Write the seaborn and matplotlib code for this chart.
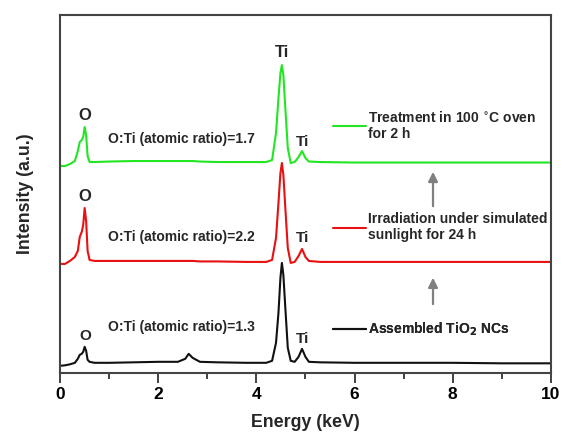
import matplotlib
matplotlib.use("Agg")
import matplotlib.pyplot as plt
from matplotlib.lines import Line2D
import pandas as pd
import seaborn as sns

# energy grid (keV) and intensities (arbitrary units)
energy = [0, 0.1, 0.2, 0.3, 0.36, 0.40, 0.44, 0.47, 0.50, 0.53, 0.56, 0.60, 0.7,
          1.0, 1.5, 2.0, 2.4, 2.55, 2.62, 2.70, 2.85, 3.2, 3.8, 4.2, 4.32, 4.40,
          4.45, 4.49, 4.52, 4.55, 4.59, 4.64, 4.70, 4.78, 4.86, 4.93, 5.00, 5.07,
          5.3, 6, 7, 8, 9, 10]

assembled = [7, 7.5, 8.5, 10, 14, 18, 19, 21, 26, 22, 13, 11, 10,
             10, 10.5, 11, 11, 14, 19, 15, 11, 10.5, 10, 10, 12, 30,
             60, 95, 110, 98, 65, 25, 12, 11, 16, 24, 16, 11,
             10.5, 10, 10, 10, 9.5, 9.5]

irradiated = [109, 109, 112, 116, 122, 136, 141, 148, 165, 152, 122, 113, 112,
              112, 112, 112, 112, 112, 112, 112, 111.5, 111.5, 111, 111, 113, 135,
              170, 200, 210, 198, 165, 125, 110, 111, 117, 124, 116, 112,
              111, 111, 111, 111, 111, 111]

oven = [207, 207, 209, 212, 222, 231, 233, 236, 246, 238, 217, 211, 211,
        211.5, 212, 212, 212, 212, 212, 212, 211.5, 211, 211, 211, 213, 240,
        275, 300, 308, 298, 265, 225, 210, 211, 216, 222, 215, 211.5,
        211, 210.5, 210.5, 210.5, 210.5, 210.5]

labels = ["Treatment in 100 $^{\\circ}$C oven\nfor 2 h",
          "Irradiation under simulated\nsunlight for 24 h",
          "Assembled TiO$_2$ NCs"]
colors = ["#22e622", "#e81010", "#111111"]
ratios = ["O:Ti (atomic ratio)=1.7", "O:Ti (atomic ratio)=2.2", "O:Ti (atomic ratio)=1.3"]

sns.set_style("ticks")
plt.rcParams["font.family"] = ["Liberation Sans", "DejaVu Sans"]
plt.rcParams["font.weight"] = "bold"
plt.rcParams["mathtext.default"] = "bf"

fig = plt.figure(figsize=(5.62, 4.34), dpi=100)
ax = fig.add_axes([0.107, 0.141, 0.873, 0.824])

series = [oven, irradiated, assembled]
for vals, c in zip(series, colors):
    df = pd.DataFrame({"E": energy, "I": vals})
    sns.lineplot(data=df, x="E", y="I", color=c, lw=1.5, ax=ax, sort=False)

ax.set_xlim(0, 10)
ax.set_ylim(0, 358)
ax.set_xticks([0, 2, 4, 6, 8, 10])
ax.set_xticks([1, 3, 5, 7, 9], minor=True)
ax.set_yticks([])
ax.tick_params(axis="x", which="major", length=7, width=1.3, labelsize=12.5, direction="out", colors="#333333")
ax.tick_params(axis="x", which="minor", length=4, width=1.3, direction="out", colors="#333333")
for lab in ax.get_xticklabels():
    lab.set_color("black")
for s in ax.spines.values():
    s.set_linewidth(1.5)
    s.set_color("#444444")
ax.set_xlabel("Energy (keV)", fontsize=12.8, fontweight="bold", labelpad=8)
ax.set_ylabel("Intensity (a.u.)", fontsize=12.8, fontweight="bold", labelpad=19)

# legends, one per spectrum
leg_pos = [(0.53, 0.77), (0.53, 0.485), (0.53, 0.18)]
for lab, c, pos in zip(labels, colors, leg_pos):
    h = Line2D([], [], color=c, lw=1.5)
    leg = ax.legend([h], [lab], loc="upper left", bbox_to_anchor=pos, frameon=False,
                    handlelength=2.4, handletextpad=0.15, fontsize=10, labelspacing=0.2)
    ax.add_artist(leg)

# ratio text
ratio_y = [234, 136, 46]
for txt, y in zip(ratios, ratio_y):
    ax.text(0.98, y, txt, fontsize=10, fontweight="bold", va="center")

# peak labels
ax.text(0.51, 258, "O", fontsize=12, ha="center", va="center", fontweight="bold")
ax.text(0.51, 176, "O", fontsize=12, ha="center", va="center", fontweight="bold")
ax.text(0.51, 37, "O", fontsize=11, ha="center", va="center", fontweight="bold")
ax.text(4.53, 321, "Ti", fontsize=12, ha="center", va="center", fontweight="bold")
for y in [231, 135, 34]:
    ax.text(4.94, y, "Ti", fontsize=11, ha="center", va="center", fontweight="bold")

# arrows
for tail, tip in [(164, 204), (66, 98)]:
    ax.annotate("", xy=(7.6, tip), xytext=(7.6, tail),
                arrowprops=dict(arrowstyle="-|>", color="#808080", lw=1.6, mutation_scale=14))

fig.savefig("out.png", dpi=100)
